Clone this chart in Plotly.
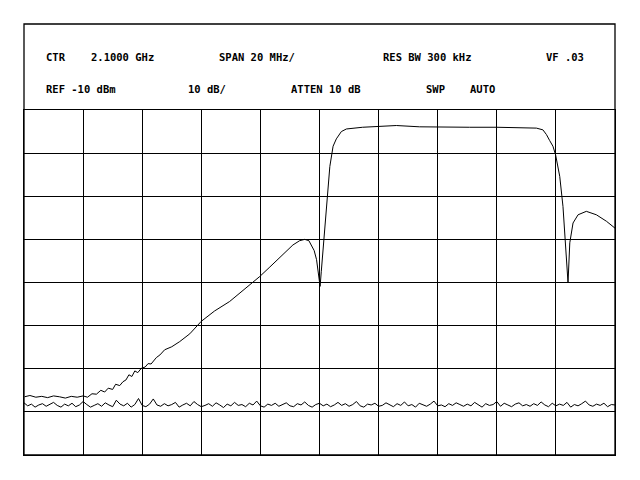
import numpy as np
import plotly.graph_objects as go

# Spectrum analyzer screen: CTR 2.1 GHz, 20 MHz/div, REF -10 dBm, 10 dB/div
f_start, f_stop = 2000, 2200
ref_level, db_per_div, n_div = -10, 10, 8

# filter response trace (MHz, dBm)
resp_freq = [2000.2, 2002.0, 2004.0, 2006.0, 2008.0, 2010.0, 2012.0, 2014.0, 2016.0, 2018.0,
             2020.0, 2021.5, 2023.0, 2024.5, 2026.0, 2027.3, 2028.5, 2030.0, 2031.0, 2032.4,
             2033.5, 2034.5, 2035.5, 2036.5, 2037.5, 2038.5, 2039.7, 2041.0, 2042.0, 2043.0,
             2044.8, 2046.0, 2047.6, 2050.0, 2052.7, 2056.1, 2060.0, 2064.5, 2069.6, 2074.7,
             2079.8, 2083.2, 2086.5, 2088.9, 2091.0, 2093.3, 2095.0, 2096.4, 2097.3, 2098.2,
             2099.0, 2099.6, 2100.2, 2100.6, 2101.2, 2102.4, 2103.5, 2104.6, 2105.7, 2107.4,
             2109.1, 2114.6, 2120.4, 2126.0, 2133.9, 2140.7, 2150.8, 2159.9, 2167.8, 2173.4,
             2175.6, 2176.8, 2177.9, 2179.0, 2179.9, 2181.3, 2182.4, 2183.3, 2184.1, 2184.7,
             2185.8, 2187.5, 2190.3, 2193.7, 2197.1, 2200.0]
resp_dbm = [-76.5, -76.2, -76.6, -76.4, -76.7, -76.3, -76.5, -76.8, -76.4, -76.6,
            -76.3, -76.6, -75.8, -75.9, -75.0, -75.4, -74.5, -74.8, -73.6, -73.9,
            -73.0, -72.6, -71.4, -71.8, -70.5, -70.9, -69.9, -69.6, -68.8, -68.9,
            -67.4, -66.8, -65.6, -64.9, -63.7, -61.9, -59.0, -56.6, -54.4, -51.5,
            -48.6, -46.4, -44.3, -42.6, -41.3, -40.3, -40.0, -40.3, -41.3, -42.6,
            -44.7, -47.5, -50.9, -47.5, -42.4, -31.5, -23.1, -18.4, -16.7, -15.0,
            -14.4, -14.0, -13.8, -13.6, -13.9, -14.0, -14.0, -14.0, -14.1, -14.2,
            -14.6, -15.7, -17.1, -18.4, -20.4, -25.4, -32.4, -40.9, -50.1, -40.8,
            -36.2, -34.3, -33.5, -34.3, -35.8, -37.4]

# noise floor trace (dBm), one reading per sweep point
noise_dbm = [-77.9, -78.6, -78.2, -78.9, -78.4, -78.1, -78.7, -78.3, -77.8, -78.5,
             -78.9, -78.2, -78.6, -78.0, -78.8, -78.4, -77.6, -78.3, -78.9, -78.5,
             -78.1, -78.7, -77.9, -78.4, -78.8, -77.3, -78.2, -78.6, -78.0, -78.9,
             -78.3, -76.9, -78.5, -78.8, -78.2, -77.0, -78.4, -78.7, -78.1, -78.6,
             -78.3, -77.8, -78.9, -78.4, -78.0, -78.6, -77.6, -78.3, -78.8, -78.5,
             -78.1, -78.7, -77.9, -78.4, -79.0, -78.2, -78.6, -77.8, -78.5, -78.3,
             -78.8, -78.0, -78.4, -77.5, -78.6, -78.9, -78.2, -78.5, -78.0, -78.7,
             -78.3, -77.9, -78.6, -78.8, -78.1, -78.4, -77.7, -78.5, -78.9, -78.3,
             -78.0, -78.6, -78.2, -78.8, -78.4, -77.8, -78.5, -78.1, -78.7, -78.3,
             -77.6, -78.6, -78.9, -78.2, -78.4, -78.0, -78.7, -78.5, -77.9, -78.3,
             -78.8, -78.1, -78.5, -77.7, -78.6, -78.3, -78.9, -78.0, -78.4, -78.7,
             -78.2, -77.5, -78.6, -78.4, -78.8, -78.1, -78.5, -77.9, -78.3, -78.7,
             -78.2, -78.6, -77.8, -78.4, -78.9, -78.1, -78.5, -78.3, -77.6, -78.7,
             -78.0, -78.4, -78.8, -78.2, -77.9, -78.6, -78.3, -78.7, -78.1, -78.5,
             -77.7, -78.4, -78.8, -78.0, -78.6, -78.2, -78.5, -77.8, -78.9, -78.3,
             -78.6, -78.1, -77.5, -78.4, -78.7, -78.2, -78.5, -78.0, -78.8, -78.3,
             -78.4]
noise_freq = np.linspace(f_start, f_stop, len(noise_dbm))

# header readouts: (text, left pixel, row)
header = [("CTR", 44, 0), ("2.1000 GHz", 89, 0), ("SPAN 20 MHz/", 217, 0),
          ("RES BW 300 kHz", 381, 0), ("VF .03", 544, 0),
          ("REF -10 dBm", 44, 1), ("10 dB/", 186, 1), ("ATTEN 10 dB", 289, 1),
          ("SWP", 424, 1), ("AUTO", 468, 1)]

# page body has an 8px margin, so the figure is drawn 8px smaller and shifted
OFF = 8
W, H = 640 - OFF, 480 - OFF
L, R, T, B = 24, 615, 110, 455
box_top = 24
row_y = [57, 89]

def px(x):
    return (x - L) / (R - L)

def py(y):
    return (B - y) / (B - T)

fig = go.Figure()
fig.add_trace(go.Scatter(x=noise_freq, y=noise_dbm, mode="lines",
                         line=dict(color="black", width=1)))
fig.add_trace(go.Scatter(x=resp_freq, y=resp_dbm, mode="lines",
                         line=dict(color="black", width=1)))

# outer frame incl. header area
fig.add_shape(type="rect", xref="paper", yref="paper", x0=0, x1=1, y0=0, y1=py(box_top),
              line=dict(color="black", width=1.3), layer="above")

for text, x, row in header:
    fig.add_annotation(text=text, xref="paper", yref="paper", x=px(x), y=py(row_y[row]),
                       xanchor="left", yanchor="middle", showarrow=False,
                       font=dict(family="DejaVu Sans Mono", size=10.5, color="black",
                                 weight="bold"))

fig.update_xaxes(range=[f_start, f_stop], dtick=20, tick0=f_start, showticklabels=False,
                 showgrid=True, gridcolor="black", gridwidth=1.3, zeroline=False,
                 showline=True, mirror=True, linecolor="black", linewidth=1.3,
                 ticks="", fixedrange=True)
fig.update_yaxes(range=[ref_level - n_div * db_per_div, ref_level], dtick=db_per_div,
                 tick0=ref_level, showticklabels=False, showgrid=True, gridcolor="black",
                 gridwidth=1.3, zeroline=False, showline=True, mirror=True,
                 linecolor="black", linewidth=1.3, ticks="", fixedrange=True)
fig.update_layout(width=W, height=H, showlegend=False,
                  margin=dict(l=L - OFF, r=W + OFF - R, t=T - OFF, b=H + OFF - B),
                  plot_bgcolor="white", paper_bgcolor="white")

fig.write_html("out.html")
